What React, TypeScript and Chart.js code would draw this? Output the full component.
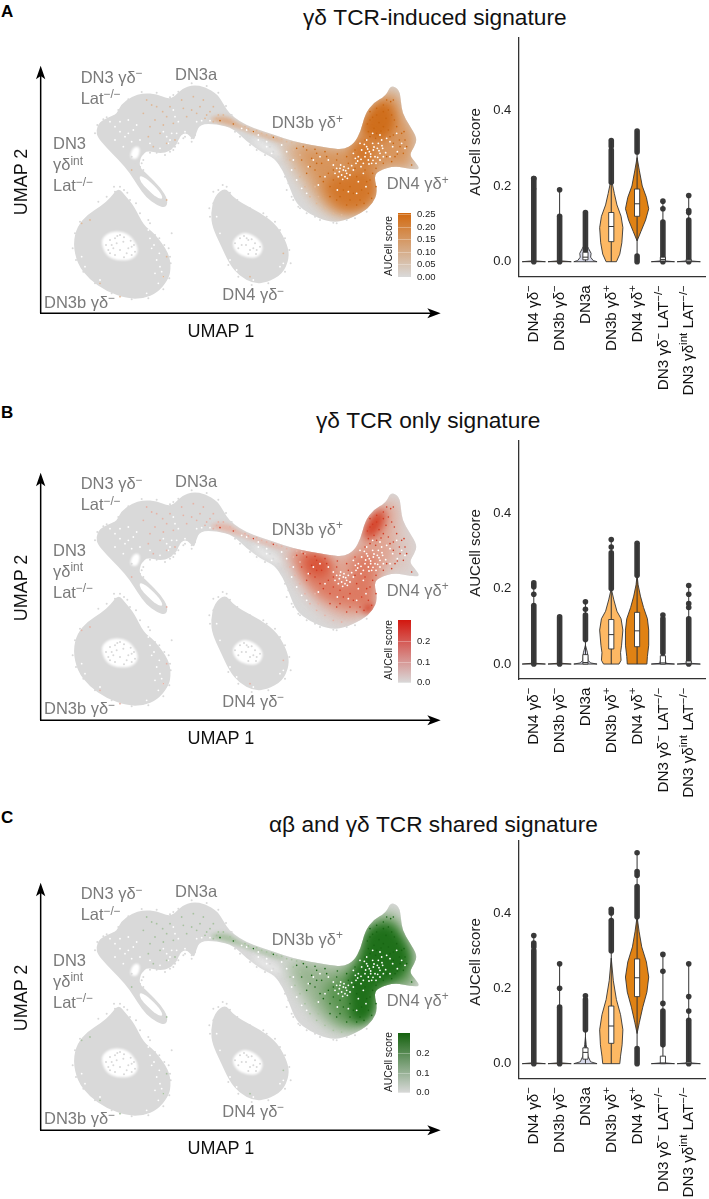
import React, { useEffect, useRef } from "react";
import { Chart, registerables } from "chart.js";

Chart.register(...registerables);

/* ---------- UMAP outlines (UMAP 1, UMAP 2 pairs) ---------- */
const upperBody = [288,392,298,366,330,350,350,342,363,313,395,290,430,279,470,282,505,297,525,289,545,266,580,254,615,261,652,282,672,315,688,340,718,364,760,384,820,404,880,424,930,434,985,444,1030,449,1062,432,1082,395,1095,343,1120,308,1158,288,1172,255,1198,268,1203,305,1207,340,1228,375,1252,415,1243,440,1228,465,1243,483,1262,508,1230,508,1185,497,1135,512,1122,530,1133,575,1118,612,1087,638,1030,664,985,666,930,644,888,612,868,560,848,510,823,475,790,460,740,425,700,385,650,372,600,372,588,400,582,424,560,397,540,407,527,442,490,462,440,452,430,464,422,472,417,500,442,523,482,563,504,600,498,624,470,616,438,592,413,557,388,517,358,482,318,442,293,412];
const strandHole = [417,525,442,537,480,575,490,598,470,593,442,568,422,547];
const innerGap = [388,470,400,440,420,440,418,468,405,480];
const trailGap = [745,405,790,430,835,450,850,480,820,460,780,445];
const leftBlob = [355,562,377,588,402,618,432,678,462,698,508,760,513,810,503,842,472,878,430,896,380,896,318,873,268,838,232,792,219,730,232,678,263,643,303,618,333,592];
const leftHole = [350,692,388,702,418,745,403,778,355,783,318,768,302,725,318,702];
const midBlob = [675,562,697,588,722,608,782,638,833,678,863,735,868,775,848,822,800,848,760,851,718,828,688,792,662,735,637,682,632,640,643,588];
const midHole = [725,697,757,702,793,735,778,773,740,773,708,758,694,725];

/* Score bands across the γδ+ lobes */
const bandBroad = [830,410,880,425,930,435,985,445,1030,450,1060,430,1080,395,1095,345,1120,310,1160,285,1175,260,1195,270,1200,305,1205,340,1225,375,1248,415,1240,440,1225,465,1240,485,1255,505,1230,505,1185,495,1135,510,1120,530,1130,575,1115,610,1085,635,1030,650,985,640,940,600,900,540,860,470];
const bandTrail = [620,355,680,345,720,375,790,400,860,420,850,430,780,410,720,385,660,370];
const bandA2 = [880,430,930,440,985,447,1030,452,1062,432,1085,395,1100,345,1125,305,1165,275,1195,290,1205,345,1225,380,1245,415,1235,445,1225,470,1250,505,1180,495,1135,508,1118,530,1127,575,1112,605,1085,628,1040,640,990,625,960,580,930,520,900,470];
const bandA3a = [1095,350,1125,312,1165,300,1185,340,1185,385,1155,420,1120,425,1095,405,1080,385];
const bandA3b = [990,530,1050,520,1100,500,1124,530,1132,578,1114,612,1082,630,1030,634,995,605,970,560];
const bandA3c = [1050,455,1090,400,1110,420,1130,470,1100,505,1060,490];
const bandB2 = [850,420,930,432,985,445,1030,450,1060,430,1085,395,1100,345,1125,315,1165,285,1190,290,1185,340,1175,390,1190,440,1160,480,1130,510,1125,580,1100,615,1040,635,985,600,930,550,890,480];
const bandB3 = [880,430,950,440,1000,460,1000,500,1030,540,1060,510,1050,470,1080,440,1130,440,1130,480,1120,530,1125,590,1100,612,1060,600,1000,590,950,560,910,510,890,470];
const bandB4a = [1088,385,1098,345,1125,315,1155,300,1155,350,1125,390,1095,400];
const bandB4b = [1085,600,1122,585,1120,612,1095,622];
const bandB4c = [915,438,975,445,995,490,955,515,915,485];
const bandC2 = [860,430,930,440,1030,450,1060,430,1080,395,1095,345,1120,310,1165,290,1195,310,1205,345,1225,380,1245,415,1225,465,1250,510,1185,495,1135,510,1125,580,1090,630,1020,640,960,600,910,530];
const bandC3 = [960,500,1040,480,1085,400,1100,345,1125,315,1170,295,1200,340,1225,385,1240,420,1225,465,1245,510,1185,495,1135,510,1125,580,1090,625,1040,625,1000,600];
const bandC4 = [1095,350,1125,325,1170,320,1195,350,1225,400,1230,440,1205,470,1190,490,1135,505,1120,530,1125,585,1095,620,1050,610,1050,530,1040,490,1085,430];

/* Individually visible cells */
const whiteCells = [1100,440,1108,455,1118,430,1125,470,1132,445,1140,460,1095,470,1105,480,1115,490,1128,490,1140,480,1085,450,1075,470,1090,490,1120,450,1135,430,1148,445,1150,470,1068,490,1060,460,1112,470,1080,430,1100,420,1145,420,1030,510,1040,520,1025,525,1045,505,1035,530,1018,515,1050,525,1010,505,1000,495,1022,495,1060,510,1032,500,1042,535,1015,530,470,780,480,800,465,820,490,830,478,760,462,735,450,715,485,815,520,330,525,350,535,365,550,420,530,400,545,410,555,395,510,420,545,430,520,445,775,420,800,440,815,460,860,455,845,435,880,480,875,510,890,540,905,565,920,580,400,390,410,375,385,360,360,365,385,400,
  1093,433,1103,447,1112,462,1122,441,1137,452,1146,437,1157,458,1097,459,1083,478,1073,483,1119,481,1133,472,1107,492,1066,475,1178,440,1170,425,1192,455,1205,430,1160,415,1140,405,1118,400,1190,400,1215,445,1170,470,1083,500,1055,497,1005,520,1020,505,1037,512,1028,538,985,480,960,470,940,480,925,500,975,530,955,555,1090,520,1075,545,1098,560,1070,580,1045,575,1012,570,
  455,745,470,700,445,690,430,660,415,630,475,850,440,880,300,840,255,800,245,770,690,780,710,810,660,700,650,650,840,800,850,790,760,840,
  330,365,345,380,360,395,375,410,420,420,450,430,480,445,505,430,515,400,500,410,490,395,345,420,370,440,395,425,590,365,605,362,630,362,760,395,775,405,800,425,740,390,725,385];
const grayCells = [330,720,345,715,370,725,395,740,360,750,340,745,380,760,325,750,360,705,405,755,745,720,765,730,725,735,750,750,720,715,770,750,740,715,515,700,470,720,480,740,495,755,490,790,505,780,465,705,450,670,420,640,390,600,360,560,345,575,240,665,295,605,320,590,655,570,680,560,640,610,630,650,700,600,735,620,800,650,840,690,868,750,520,285,515,300,525,440,510,455,535,430,550,415,575,425,760,410,790,420,810,440,820,455,835,470,725,400,750,415,860,570,880,600,900,625,945,650,1000,668,1040,660,430,480,420,500,375,495,395,470,350,345,340,350,320,352,565,400,555,410,
  352,708,372,712,392,722,402,735,335,735,318,735,350,730,385,745,345,765,372,772,395,765,330,760,732,708,755,718,780,740,768,762,745,762,715,745,705,730,738,735,760,745,
  510,770,512,790,506,745,493,735,478,715,445,660,408,610,382,578,372,570,342,560,225,700,218,745,228,780,250,815,285,850,335,880,395,898,445,895,490,868,508,835,
  628,625,640,575,668,555,690,578,712,600,750,625,790,640,825,665,855,715,872,790,855,815,805,850,755,855,715,830,685,795,
  285,400,292,375,310,358,355,330,385,298,425,276,470,278,510,292,535,275,575,250,620,258,655,278,678,318,695,345,520,295,530,300,
  795,465,770,450,750,435,720,410,705,395,830,480,845,500,855,530,865,550,875,590,895,620,920,640,960,660,1010,670,1065,655,1100,635,
  585,405,575,415,570,400,545,395,535,415,520,450,495,465,470,458,450,458,425,490,405,490,430,510,370,470,340,455,325,430];
const tintCells = [440,300,470,320,500,350,520,370,480,400,450,380,430,340,545,300,580,290,610,300,640,320,655,345,620,345,590,340,560,350,460,440,500,430,525,420,660,360,640,365,615,355,690,360,705,370,735,380,770,392,800,405,830,415,860,425,890,432,915,440,245,670,500,770,490,830,395,510,360,890,300,850,750,830,850,760,500,600,270,660,
  455,315,488,335,510,320,465,360,445,410,490,375,600,320,630,335,575,330,550,325,670,345,650,355,745,387,785,400,815,408,845,418,875,428,905,435,870,480,885,505,900,530,915,560,930,590,950,610,975,625,880,450,900,465,1000,640,1025,645,945,560,955,590];
const strongCells = [1110,360,1130,345,1150,335,1165,330,1175,345,1190,380,1205,400,1215,420,1200,440,1180,430,1170,410,1150,380,1130,400,1110,410,1095,420,1065,450,1040,470,1010,480,980,470,950,460,920,450,890,445,905,480,930,500,960,530,990,560,1020,590,1050,600,1080,600,1105,580,1110,540,1095,510,1070,530,1050,560,1020,550,985,520,950,490,1160,470,1185,470,1210,460,1235,495,1180,300,1160,300,660,362,700,372,760,395,820,412,
  1102,372,1118,352,1137,368,1158,355,1122,385,1143,393,1105,395,1127,415,1165,390,1183,360,1198,420,1220,440,1192,462,1175,485,1150,490,1128,505,1118,520,1128,560,1115,595,1092,610,1070,615,1040,615,1010,600,990,590,970,545,1000,540,1030,570,1060,580,1085,570,1100,545,1065,505,1045,490,1012,462,975,455,945,448,910,440,935,475,920,520,945,510,965,490,1000,510,1150,315,1130,325,1172,305,1110,335,1212,395,1180,405];

/* Axes of the UMAP panels */
const umapAxisX = [120,940,1295,940];
const umapAxisY = [122,940,122,225];
const umapArrowX = [1322,940,1282,925,1292,940,1282,955];
const umapArrowY = [122,197,108,238,122,228,136,238];

/* ---------- Violin panels ---------- */
const categories = ["DN4 γδ^−","DN3b γδ^−","DN3a","DN3b γδ^+","DN4 γδ^+","DN3 γδ^− LAT^−/−","DN3 γδ^int LAT^−/−"];
const categoryPositions = [0,1,2,3,4,5,6];
const scoreTicks = [0,0.2,0.4];
const violinColors = ["#7f3b08","#b35806","#d8daeb","#fdb863","#e08214","#3b1f73","#b2abd2"];
const flatViolin = [[0,.45],[.002,.1],[.006,0]];

const violinsA = [flatViolin,flatViolin,[[0,.45],[.003,.3],[.012,.2],[.022,.22],[.035,.12],[.05,0]],[[0,.2],[.02,.33],[.05,.41],[.09,.45],[.12,.38],[.15,.22],[.18,.12],[.21,.03],[.225,0]],[[.055,0],[.08,.15],[.11,.33],[.14,.45],[.17,.36],[.2,.2],[.24,.09],[.275,0]],[[0,.45],[.002,.1],[.01,.08],[.02,.03],[.03,0]],flatViolin];
const boxesA = [[0,0,0],[0,0,0],[.005,.012,.025],[.053,.093,.13],[.12,.153,.192],[.002,.006,.012],[0,.002,.006]];
const whiskersA = [[0,.22],[0,.19],[0,.13],[0,.32],[0,.345],[0,.16],[0,.175]];
const columnsA = [[[0,.19],[.195,.22]],[[0,.12]],[[.03,.13]],[[.21,.295],[.305,.32]],[[0,.015],[.29,.345]],[[0,.105]],[[0,.11]]];
const dotsA = [[.22],[.19],[],[],[],[.14,.16],[.13,.135,.175]];

const violinsB = [flatViolin,flatViolin,[[0,.45],[.003,.2],[.01,.1],[.03,.08],[.05,0]],[[0,.3],[.01,.38],[.03,.36],[.05,.4],[.09,.45],[.12,.38],[.14,.22],[.17,.1],[.2,0]],[[0,.38],[.02,.4],[.05,.45],[.09,.45],[.12,.4],[.15,.25],[.18,.13],[.21,.04],[.235,0]],[[0,.45],[.002,.12],[.02,.06],[.04,0]],flatViolin];
const boxesB = [[0,0,0],[0,0,0],[0,.004,.025],[.04,.078,.118],[.046,.088,.137],[0,.003,.022],[0,.002,.008]];
const whiskersB = [[0,.215],[0,.125],[0,.165],[0,.33],[0,.32],[0,.13],[0,.208]];
const columnsB = [[[0,.155],[.205,.215]],[[0,.125]],[[.065,.13]],[[.2,.295]],[[.235,.32]],[[.03,.12]],[[0,.12]]];
const dotsB = [[.185],[],[.145,.165],[.31,.33],[],[.13],[.15,.16,.185,.208]];

const violinsC = [flatViolin,flatViolin,[[0,.45],[.005,.2],[.02,.1],[.05,.03],[.07,0]],[[0,.33],[.02,.36],[.05,.42],[.09,.45],[.13,.36],[.17,.2],[.22,.08],[.28,0]],[[.08,0],[.11,.09],[.15,.22],[.19,.38],[.23,.45],[.27,.36],[.31,.18],[.35,.08],[.39,0]],flatViolin,flatViolin];
const boxesC = [[0,0,0],[0,0,0],[.012,.03,.042],[.054,.1,.153],[.178,.228,.278],[0,.002,.02],[0,.001,.004]];
const whiskersC = [[0,.34],[0,.265],[0,.18],[0,.41],[0,.56],[0,.29],[0,.265]];
const columnsC = [[[0,.3],[.31,.32]],[[0,.15]],[[.09,.17]],[[.3,.38],[.4,.41]],[[0,.04],[.39,.47],[.5,.51]],[[.05,.14]],[[0,.115]]];
const dotsC = [[.34],[.2,.265],[.18],[],[.56],[.16,.245,.29],[.14,.178,.265]];

/* ---------- Presentation ---------- */
const SANS = '"Liberation Sans", Arial, sans-serif';
const BASE_GRAY = "#d9d9d9";
const INK = "#3a3a3a";

const pairs = (flat: number[]) => {
  const out: { x: number; y: number }[] = [];
  for (let i = 0; i < flat.length; i += 2) out.push({ x: flat[i], y: flat[i + 1] });
  return out;
};

function tracePath(ctx: any, p: { x: number; y: number }[], smooth: boolean) {
  ctx.beginPath();
  if (!smooth) {
    p.forEach((q, i) => (i ? ctx.lineTo(q.x, q.y) : ctx.moveTo(q.x, q.y)));
  } else {
    const n = p.length;
    const mid = (a: any, b: any) => ({ x: (a.x + b.x) / 2, y: (a.y + b.y) / 2 });
    const s = mid(p[n - 1], p[0]);
    ctx.moveTo(s.x, s.y);
    for (let i = 0; i < n; i++) {
      const m = mid(p[i], p[(i + 1) % n]);
      ctx.quadraticCurveTo(p[i].x, p[i].y, m.x, m.y);
    }
  }
  ctx.closePath();
}

const polygonPlugin = {
  id: "polygon",
  beforeDatasetDraw(chart: any, args: any) {
    const ds = chart.data.datasets[args.index];
    if (!ds.polygon) return;
    const ctx = chart.ctx;
    ctx.save();
    if (ds.clipTo) {
      const sx = chart.scales.x, sy = chart.scales.y;
      tracePath(ctx, ds.clipTo.map((p: any) => ({ x: sx.getPixelForValue(p.x), y: sy.getPixelForValue(p.y) })), true);
      ctx.clip();
    }
    if (ds.soft) ctx.filter = `blur(${ds.soft}px)`;
    tracePath(ctx, args.meta.data, !!ds.smooth);
    ctx.fillStyle = ds.backgroundColor;
    ctx.fill();
    if (ds.stroke) {
      ctx.filter = "none";
      ctx.strokeStyle = ds.stroke;
      ctx.lineWidth = ds.strokeWidth || 1;
      ctx.stroke();
    }
    ctx.restore();
    return false;
  },
};

/* Axis labels with raised parts (everything after ^ up to the next space) */
const categoryLabelPlugin = {
  id: "categoryLabels",
  afterDraw(chart: any) {
    const scale = chart.scales.x;
    const ctx = chart.ctx;
    const main = `15.2px ${SANS}`, small = `11.5px ${SANS}`;
    scale.ticks.forEach((t: any, i: number) => {
      const parts = categories[t.value].split(/(\^\S+)/).filter(Boolean);
      ctx.save();
      ctx.translate(scale.getPixelForTick(i), chart.chartArea.bottom + 8.5);
      ctx.rotate(-Math.PI / 2);
      ctx.fillStyle = "#111111";
      ctx.textBaseline = "middle";
      let total = 0;
      parts.forEach((s: string) => {
        ctx.font = s[0] === "^" ? small : main;
        total += ctx.measureText(s.replace("^", "")).width;
      });
      let at = -total;
      parts.forEach((s: string) => {
        const up = s[0] === "^";
        ctx.font = up ? small : main;
        const text = s.replace("^", "");
        ctx.fillText(text, at, up ? -4.5 : 0.5);
        at += ctx.measureText(text).width;
      });
      ctx.restore();
    });
  },
};

const poly = (flat: number[], color: string, soft = 0, clipTo?: any, smooth = false) => ({
  type: "scatter", data: pairs(flat), polygon: true, backgroundColor: color, soft, clipTo, smooth, pointRadius: 0,
});
const cells = (flat: number[], color: string, r = 1) => ({
  type: "scatter", data: pairs(flat), backgroundColor: color, borderWidth: 0, pointRadius: r, clip: false,
});
const line = (flat: number[], color: string, w: number, cap = "butt") => ({
  type: "scatter", data: pairs(flat), showLine: true, borderColor: color, borderWidth: w, borderCapStyle: cap, pointRadius: 0, clip: false,
});

function umapConfig(bands: { flat: number[]; color: string; soft: number }[], tint: string, strong: string): any {
  const body = pairs(upperBody);
  const ds: any[] = [
    poly(upperBody, BASE_GRAY, 0.5, undefined, true),
    poly(leftBlob, BASE_GRAY, 0.6, undefined, true),
    poly(midBlob, BASE_GRAY, 0.6, undefined, true),
    ...bands.map((b) => poly(b.flat, b.color, b.soft, body, true)),
    poly(strandHole, "#ffffff", 0.4, undefined, true),
    poly(innerGap, "#ffffff", 1.2, undefined, true),
    poly(trailGap, "#ececec", 3, undefined, true),
    poly(leftHole, "#ffffff", 1.2, undefined, true),
    poly(midHole, "#ffffff", 1.2, undefined, true),
    cells(whiteCells, "#ffffff", 0.9),
    cells(grayCells, BASE_GRAY, 1),
    cells(tintCells, tint, 0.9),
    cells(strongCells, strong, 0.8),
    line(umapAxisX, "#000000", 1.5),
    line(umapAxisY, "#000000", 1.5),
    poly(umapArrowX, "#000000"),
    poly(umapArrowY, "#000000"),
  ];
  return {
    data: { datasets: ds.reverse() },
    plugins: [polygonPlugin],
    options: {
      animation: false, responsive: false,
      layout: { padding: { left: 40, right: 4.33, top: 5.67, bottom: 8.67 } },
      plugins: { legend: { display: false }, tooltip: { enabled: false } },
      scales: {
        x: { type: "linear", min: 120, max: 1322, display: false },
        y: { type: "linear", min: 197, max: 940, reverse: true, display: false },
      },
    },
  };
}

function violinConfig(violins: number[][][], boxes: number[][], whiskers: number[][], columns: number[][][], dots: number[][], top: number, axisBottom: number, canvasH: number): any {
  const ds: any[] = [];
  const BOX = 0.1;
  categoryPositions.forEach((c, i) => {
    const right = violins[i].flatMap(([y, w]) => [c + w, y]);
    const left = [...violins[i]].reverse().flatMap(([y, w]) => [c - w, y]);
    ds.push({ ...poly([...right, ...left], violinColors[i]), stroke: "#333333", strokeWidth: 0.9 });
  });
  categoryPositions.forEach((c, i) => {
    columns[i].forEach(([lo, hi]) => ds.push(line([c, lo, c, hi], INK, 5.6, "round")));
    ds.push(cells(dots[i].flatMap((v) => [c, v]), INK, 2.8));
    ds.push(line([c, whiskers[i][0], c, whiskers[i][1]], "#333333", 1));
  });
  categoryPositions.forEach((c, i) => {
    const [q1, m, q3] = boxes[i];
    if (q3 === 0) return;
    ds.push({ ...poly([c - BOX, q1, c + BOX, q1, c + BOX, q3, c - BOX, q3], "#ffffff"), stroke: "#333333", strokeWidth: 0.9 });
    ds.push(line([c - BOX, m, c + BOX, m], "#333333", 1));
  });
  return {
    data: { datasets: ds.reverse() },
    plugins: [polygonPlugin, categoryLabelPlugin],
    options: {
      animation: false, responsive: false,
      layout: { padding: { top, left: 0, right: 0, bottom: 0 } },
      plugins: { legend: { display: false }, tooltip: { enabled: false } },
      scales: {
        x: {
          type: "linear", min: -0.6, max: 6.63,
          grid: { display: false, tickLength: 4, tickColor: "#333333", drawOnChartArea: false },
          border: { color: "#333333", width: 1.3 },
          afterBuildTicks: (s: any) => { s.ticks = categoryPositions.map((v) => ({ value: v })); },
          afterFit: (s: any) => { s.height = canvasH - axisBottom; s.paddingLeft = 0; s.paddingRight = 0; },
          ticks: { display: false },
        },
        y: {
          type: "linear", min: -0.0396, max: 0.591,
          grid: { display: false, tickLength: 4, tickColor: "#333333", drawOnChartArea: false },
          border: { color: "#333333", width: 1.3 },
          afterBuildTicks: (s: any) => { s.ticks = scoreTicks.map((v) => ({ value: v })); },
          afterFit: (s: any) => { s.width = 68.3; s.paddingTop = 0; s.paddingBottom = 0; },
          ticks: {
            padding: 3, color: "#222222",
            font: { family: SANS, size: 13 },
            callback: (v: number) => v.toFixed(1),
          },
        },
      },
    },
  };
}

function ChartCanvas({ config, left, top, width, height }: any) {
  const ref = useRef<HTMLCanvasElement>(null);
  useEffect(() => {
    const chart = new Chart(ref.current as any, config);
    return () => chart.destroy();
  }, []);
  return <canvas ref={ref} width={width} height={height} style={{ position: "absolute", left, top, width, height }} />;
}

const Sup = ({ children }: any) => (
  <sup style={{ fontSize: "0.72em", verticalAlign: "baseline", position: "relative", top: "-0.45em", lineHeight: 0 }}>{children}</sup>
);

function Txt({ x, y, size, color, children, bold }: any) {
  return (
    <div style={{ position: "absolute", left: x, top: y, transform: "translateY(-50%)", fontSize: size, color, fontWeight: bold ? 700 : 400, whiteSpace: "nowrap", lineHeight: 1.1 }}>
      {children}
    </div>
  );
}
function VTxt({ x, y, size, color, children }: any) {
  return (
    <div style={{ position: "absolute", left: x, top: y, transform: "translate(-50%,-50%) rotate(-90deg)", fontSize: size, color, whiteSpace: "nowrap", lineHeight: 1.1 }}>
      {children}
    </div>
  );
}

function MapLabels({ d }: { d: number }) {
  const c = "#7a7a7a", s = 16.5;
  return (
    <>
      <Txt x={80.7} y={76.7 + d} size={s} color={c}>DN3 γδ<Sup>−</Sup></Txt>
      <Txt x={80.7} y={97.7 + d} size={s} color={c}>Lat<Sup>−/−</Sup></Txt>
      <Txt x={175} y={74 + d} size={s} color={c}>DN3a</Txt>
      <Txt x={271.7} y={122 + d} size={s} color={c}>DN3b γδ<Sup>+</Sup></Txt>
      <Txt x={53} y={143 + d} size={s} color={c}>DN3</Txt>
      <Txt x={53} y={164 + d} size={s} color={c}>γδ<Sup>int</Sup></Txt>
      <Txt x={53} y={185 + d} size={s} color={c}>Lat<Sup>−/−</Sup></Txt>
      <Txt x={386.7} y={183 + d} size={s} color={c}>DN4 γδ<Sup>+</Sup></Txt>
      <Txt x={44} y={301.7 + d} size={s} color={c}>DN3b γδ<Sup>−</Sup></Txt>
      <Txt x={222.3} y={294 + d} size={s} color={c}>DN4 γδ<Sup>−</Sup></Txt>
      <Txt x={187.5} y={332 + d} size={18} color="#111">UMAP 1</Txt>
      <VTxt x={22} y={181.7 + d} size={18} color="#111">UMAP 2</VTxt>
    </>
  );
}

function ColorBar({ top, bottom, hi, ticks, tickPos, w, titleY }: any) {
  return (
    <>
      <div style={{ position: "absolute", left: 398.3, top, width: w, height: bottom - top, background: `linear-gradient(to top, ${BASE_GRAY}, ${hi})` }} />
      {tickPos.map((p: number) => (
        <div key={"t" + p} style={{ position: "absolute", left: 398.3, top: p, width: w, height: 0.5, background: "rgba(255,255,255,.3)" }} />
      ))}
      {ticks.map((t: string, i: number) => (
        <Txt key={t} x={398.3 + w + 6} y={tickPos[i]} size={9.5} color="#222">{t}</Txt>
      ))}
      <VTxt x={389.3} y={titleY} size={10.3} color="#222">AUCell score</VTxt>
    </>
  );
}

const DB = 406.67;
const DC = 816.67;

const configs = {
  mapA: umapConfig([
    { flat: bandBroad, color: "#dab596", soft: 7 },
    { flat: bandTrail, color: "#dcae8c", soft: 2 },
    { flat: bandA2, color: "#d8955c", soft: 7 },
    { flat: bandA3a, color: "#cf6e1c", soft: 5 },
    { flat: bandA3b, color: "#d3772a", soft: 6 },
    { flat: bandA3c, color: "#d3772a", soft: 6 },
  ], "#dfb898", "#c8640f"),
  mapB: umapConfig([
    { flat: bandBroad, color: "#dcc8c2", soft: 7 },
    { flat: bandTrail, color: "#e3b5a8", soft: 2 },
    { flat: bandB2, color: "#e0a492", soft: 7 },
    { flat: bandB3, color: "#dd7a62", soft: 6 },
    { flat: bandB4a, color: "#d5432a", soft: 4 },
    { flat: bandB4b, color: "#d5432a", soft: 3 },
    { flat: bandB4c, color: "#d9553a", soft: 5 },
  ], "#e6b3a6", "#d13a22"),
  mapC: umapConfig([
    { flat: bandBroad, color: "#c9d1c6", soft: 7 },
    { flat: bandTrail, color: "#a9c0a2", soft: 2 },
    { flat: bandC2, color: "#97b48f", soft: 7 },
    { flat: bandC3, color: "#58944e", soft: 7 },
    { flat: bandC4, color: "#1f701a", soft: 5 },
  ], "#a8c2a0", "#176412"),
  vioA: violinConfig(violinsA, boxesA, whiskersA, columnsA, dotsA, 8, 246.7, 380),
  vioB: violinConfig(violinsB, boxesB, whiskersB, columnsB, dotsB, 8, 246, 380),
  vioC: violinConfig(violinsC, boxesC, whiskersC, columnsC, dotsC, 8, 245.6, 367),
};

export default function App() {
  useEffect(() => {
    document.body.style.margin = "0";
  }, []);
  return (
    <div style={{ position: "relative", width: 709, height: 1199, overflow: "hidden", background: "#fff", fontFamily: SANS }}>
      <Txt x={1} y={12} size={17} color="#000" bold>A</Txt>
      <Txt x={1} y={413} size={17} color="#000" bold>B</Txt>
      <Txt x={1} y={818} size={17} color="#000" bold>C</Txt>

      <Txt x={303} y={17} size={22.7} color="#111">γδ TCR-induced signature</Txt>
      <Txt x={316} y={420} size={22.7} color="#111">γδ TCR only signature</Txt>
      <Txt x={269} y={824} size={22.7} color="#111">αβ and γδ TCR shared signature</Txt>

      <ChartCanvas config={configs.mapA} left={0} top={60} width={445} height={262} />
      <ChartCanvas config={configs.mapB} left={0} top={60 + DB} width={445} height={262} />
      <ChartCanvas config={configs.mapC} left={0} top={60 + DC} width={445} height={262} />

      <MapLabels d={0} />
      <MapLabels d={DB} />
      <MapLabels d={DC} />

      <ColorBar top={213.3} bottom={277} hi="#d2690f" w={12.7} ticks={["0.25","0.20","0.15","0.10","0.05","0.00"]} tickPos={[214,226.5,239,251.5,264,276.7]} titleY={245.5} />
      <ColorBar top={620} bottom={682.7} hi="#d3170f" w={12.7} ticks={["0.2","0.1","0.0"]} tickPos={[641,661.7,682.3]} titleY={650.3} />
      <ColorBar top={1033.3} bottom={1092.7} hi="#15620f" w={12} ticks={["0.2","0.1","0.0"]} tickPos={[1053.3,1072.7,1092.3]} titleY={1062} />

      <ChartCanvas config={configs.vioA} left={450} top={30} width={259} height={380} />
      <ChartCanvas config={configs.vioB} left={450} top={433} width={259} height={380} />
      <ChartCanvas config={configs.vioC} left={450} top={832.7} width={259} height={367} />

      <VTxt x={475} y={151.7} size={15} color="#222">AUCell score</VTxt>
      <VTxt x={475} y={553} size={15} color="#222">AUCell score</VTxt>
      <VTxt x={475} y={962} size={15} color="#222">AUCell score</VTxt>
    </div>
  );
}
